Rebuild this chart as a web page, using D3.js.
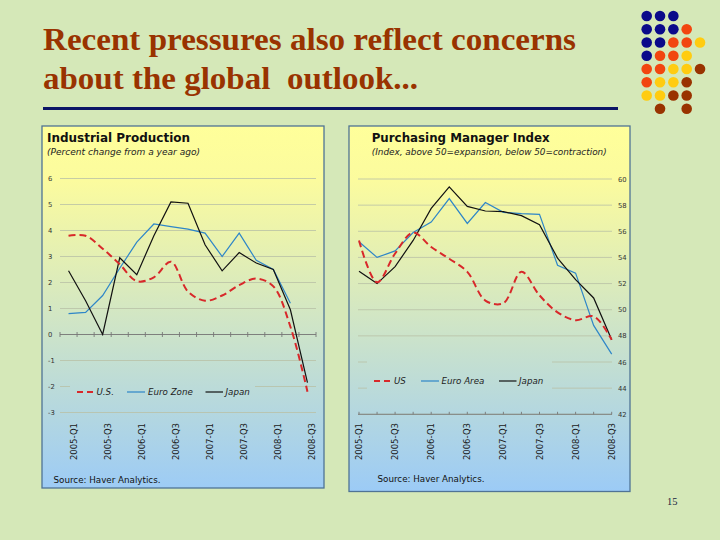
<!DOCTYPE html>
<html><head><meta charset="utf-8">
<script src="https://cdn.jsdelivr.net/npm/d3@7"></script>
<style>html,body{margin:0;padding:0;background:#D5E8B8;} svg{display:block}</style>
</head><body>
<svg id="c" width="720" height="540"></svg>
<script>
// ---------------- data ----------------
const categories = ["2005-Q1","2005-Q2","2005-Q3","2005-Q4","2006-Q1","2006-Q2","2006-Q3","2006-Q4",
                    "2007-Q1","2007-Q2","2007-Q3","2007-Q4","2008-Q1","2008-Q2","2008-Q3"];
const xTickLabels = ["2005-Q1","2005-Q3","2006-Q1","2006-Q3","2007-Q1","2007-Q3","2008-Q1","2008-Q3"];

const ipUS       = [3.8, 3.8, 3.3, 2.7, 2.05, 2.2, 2.8, 1.65, 1.3, 1.5, 1.9, 2.15, 1.85, 0.3, -2.2];
const ipEuroZone = [0.8, 0.85, 1.5, 2.55, 3.55, 4.25, 4.15, 4.05, 3.9, 3.0, 3.9, 2.85, 2.5, 1.2, null];
const ipJapan    = [2.45, 1.3, 0.0, 2.95, 2.3, 3.8, 5.1, 5.05, 3.45, 2.45, 3.15, 2.75, 2.5, 0.95, -1.85];
const ipTicks    = [6, 5, 4, 3, 2, 1, 0, -1, -2, -3];

const pmiUS       = [55.3, 52.1, 54.3, 55.9, 54.8, 53.9, 52.9, 50.7, 50.5, 52.9, 51.1, 49.8, 49.2, 49.5, 47.7];
const pmiEuroArea = [55.2, 54.0, 54.5, 55.9, 56.7, 58.5, 56.6, 58.2, 57.45, 57.35, 57.3, 53.4, 52.8, 48.8, 46.6];
const pmiJapan    = [52.95, 52.0, 53.3, 55.3, 57.75, 59.4, 57.9, 57.55, 57.5, 57.2, 56.5, 53.95, 52.3, 50.9, 47.7];
const pmiTicks    = [60, 58, 56, 54, 52, 50, 48, 46, 44, 42];

const titleLines = ["Recent pressures also reflect concerns", "about the global  outlook..."];
const ipTitle = "Industrial Production";
const ipSubtitle = "(Percent change from a year ago)";
const pmiTitle = "Purchasing Manager Index";
const pmiSubtitle = "(Index, above 50=expansion, below 50=contraction)";
const sourceText = "Source: Haver Analytics.";
const ipLegend = ["U.S.", "Euro Zone", "Japan"];
const pmiLegend = ["US", "Euro Area", "Japan"];
const pageNumber = "15";
// decoration dot grid: N navy, O orange-red, G gold, B brown, . empty
const dotRows = ["NNN..", "NNNO.", "NNOOG", "NOOG.", "OOGGB", "OGGB.", "GGBB.", ".B.B."];
const dotColor = {N:"#0A0A8A", O:"#F2460F", G:"#FFCC10", B:"#993300"};

// ---------------- drawing ----------------
const svg = d3.select("#c");
svg.append("rect").attr("width",720).attr("height",540).attr("fill","#D5E8B8");

const defs = svg.append("defs");
const grad = defs.append("linearGradient").attr("id","pg")
  .attr("gradientUnits","userSpaceOnUse").attr("x1",0).attr("y1",126).attr("x2",0).attr("y2",491);
grad.append("stop").attr("offset",0).attr("stop-color","#FFFF9A");
grad.append("stop").attr("offset",0.15).attr("stop-color","#FBFB9E");
grad.append("stop").attr("offset",1).attr("stop-color","#9CCBF6");

// title
titleLines.forEach((t,i)=>{
  svg.append("text").attr("x",43).attr("y",[50,89][i])
    .attr("font-family","'Liberation Serif','Times New Roman',serif")
    .attr("font-weight","bold").attr("font-size",31).attr("fill","#993300")
    .attr("textLength",[533,375][i]).attr("lengthAdjust","spacingAndGlyphs")
    .style("white-space","pre").text(t);
});
svg.append("line").attr("x1",43).attr("x2",618).attr("y1",108.5).attr("y2",108.5)
  .attr("stroke","#0B1566").attr("stroke-width",3);

// dots
dotRows.forEach((row,r)=>{
  row.split("").forEach((ch,c)=>{
    if (ch === ".") return;
    svg.append("circle").attr("cx",646.7 + c*13.33).attr("cy",16 + r*13.25)
      .attr("r",5.3).attr("fill",dotColor[ch]);
  });
});

// page number
svg.append("text").attr("x",667).attr("y",505).attr("font-family","'Liberation Serif',serif")
  .attr("font-size",10.5).attr("fill","#1A2440").text(pageNumber);

const SANS = "'DejaVu Sans',Verdana,sans-serif";
const RED = "#D8282A", BLUE = "#2E86C8", BLACK = "#111111";

function panel(p){
  const g = svg.append("g");
  g.append("rect").attr("x",p.box[0]).attr("y",p.box[1]).attr("width",p.box[2]).attr("height",p.box[3])
    .attr("fill","url(#pg)").attr("stroke","#4F7395").attr("stroke-width",1.3);
  g.append("text").attr("x",p.titleX).attr("y",141.5).attr("font-family",SANS).attr("font-weight","bold")
    .attr("font-size",12).attr("fill","#111").attr("textLength",p.titleLen).attr("lengthAdjust","spacingAndGlyphs").text(p.title);
  g.append("text").attr("x",p.titleX).attr("y",155).attr("font-family",SANS).attr("font-style","italic")
    .attr("font-size",8.7).attr("fill","#222").attr("textLength",p.subLen).attr("lengthAdjust","spacingAndGlyphs").text(p.subtitle);

  // gridlines
  g.selectAll(null).data(p.ticks).enter().append("line")
    .attr("x1",p.gridX[0]).attr("x2",p.gridX[1])
    .attr("y1",d=>p.y(d)).attr("y2",d=>p.y(d))
    .attr("stroke","#B9C0A6").attr("stroke-width",0.8);
  // y labels
  g.selectAll(null).data(p.ticks).enter().append("text")
    .attr("x",p.yLabelX).attr("y",d=>p.y(d)+2.5)
    .attr("font-family",SANS).attr("font-size",6.8).attr("fill","#333").text(d=>d);

  // category axis
  g.append("line").attr("x1",p.gridX[0]).attr("x2",p.gridX[1])
    .attr("y1",p.y(p.axisAt)).attr("y2",p.y(p.axisAt)).attr("stroke","#777").attr("stroke-width",0.9);
  g.selectAll(null).data(p.tickXs).enter().append("line")
    .attr("x1",d=>d).attr("x2",d=>d)
    .attr("y1",p.y(p.axisAt)-2.5).attr("y2",p.y(p.axisAt)+p.tickDown)
    .attr("stroke","#777").attr("stroke-width",0.9);
  g.selectAll(null).data(xTickLabels).enter().append("text")
    .attr("transform",d=>`translate(${p.cx(d)+p.labelOff},423) rotate(-90)`)
    .attr("text-anchor","end").attr("font-family",SANS).attr("font-size",8.5).attr("fill","#1a1a1a").text(d=>d);

  // legend background (hides gridlines) and items
  g.append("rect").attr("x",p.legBox[0]).attr("y",p.legBox[1]).attr("width",p.legBox[2]).attr("height",p.legBox[3])
    .attr("fill","url(#pg)");
  const styles = [{c:RED,w:2,d:"6,4"},{c:BLUE,w:1.2,d:null},{c:BLACK,w:1.2,d:null}];
  p.legend.forEach((name,i)=>{
    const s = styles[i], it = p.legItems[i];
    g.append("line").attr("x1",it[0]).attr("x2",it[1]).attr("y1",p.legY).attr("y2",p.legY)
      .attr("stroke",s.c).attr("stroke-width",s.w).attr("stroke-dasharray",s.d);
    g.append("text").attr("x",it[2]).attr("y",p.legY+3.2).attr("font-family",SANS).attr("font-style","italic")
      .attr("font-size",8.7).attr("fill","#222").text(name);
  });

  g.append("text").attr("x",p.srcX).attr("y",p.srcY).attr("font-family",SANS).attr("font-size",8.7)
    .attr("fill","#111").attr("textLength",107).attr("lengthAdjust","spacingAndGlyphs").text(sourceText);

  // series
  const mk = (curve)=>d3.line().defined(d=>d!=null)
    .x((d,i)=>p.cx(categories[i])).y(d=>p.y(d)).curve(curve);
  g.append("path").attr("d",mk(d3.curveLinear)(p.series[1])).attr("fill","none")
    .attr("stroke",BLUE).attr("stroke-width",1.2);
  g.append("path").attr("d",mk(d3.curveLinear)(p.series[2])).attr("fill","none")
    .attr("stroke",BLACK).attr("stroke-width",1.2);
  g.append("path").attr("d",mk(d3.curveCatmullRom.alpha(0.5))(p.series[0])).attr("fill","none")
    .attr("stroke",RED).attr("stroke-width",2).attr("stroke-dasharray","7,4");
}

// left: industrial production
const xL = d3.scaleBand().domain(categories).range([60,316]);
const cxL = c => xL(c) + xL.bandwidth()/2;
const yL = d3.scaleLinear().domain([-3,6]).range([412.5,178.5]);
panel({
  box:[42,126,282,362], title:ipTitle, subtitle:ipSubtitle, titleX:47, titleLen:143, subLen:153,
  ticks:ipTicks, y:yL, cx:cxL, gridX:[60,316], yLabelX:48, axisAt:0,
  tickXs: categories.map(c=>xL(c)).concat([316]), tickDown:2.5, labelOff:8,
  legBox:[70,380,185,18], legY:392, legend:ipLegend,
  legItems:[[77,93,96.5],[127,145,148],[205.5,223,225.5]],
  srcX:53.5, srcY:482.5, series:[ipUS, ipEuroZone, ipJapan]
});

// right: PMI
const xR = d3.scalePoint().domain(categories).range([359,611.7]);
const yR = d3.scaleLinear().domain([42,60]).range([414.3,179]);
panel({
  box:[349,126,281,365.5], title:pmiTitle, subtitle:pmiSubtitle, titleX:371.7, titleLen:178, subLen:235,
  ticks:pmiTicks, y:yR, cx:xR, gridX:[358,612], yLabelX:618, axisAt:42,
  tickXs: categories.map(c=>xR(c)), tickDown:0, labelOff:3,
  legBox:[367,354,185,42], legY:381, legend:pmiLegend,
  legItems:[[374,391,394],[421,439,441.5],[499,516.5,519]],
  srcX:377.5, srcY:481.5, series:[pmiUS, pmiEuroArea, pmiJapan]
});
</script>
</body></html>
